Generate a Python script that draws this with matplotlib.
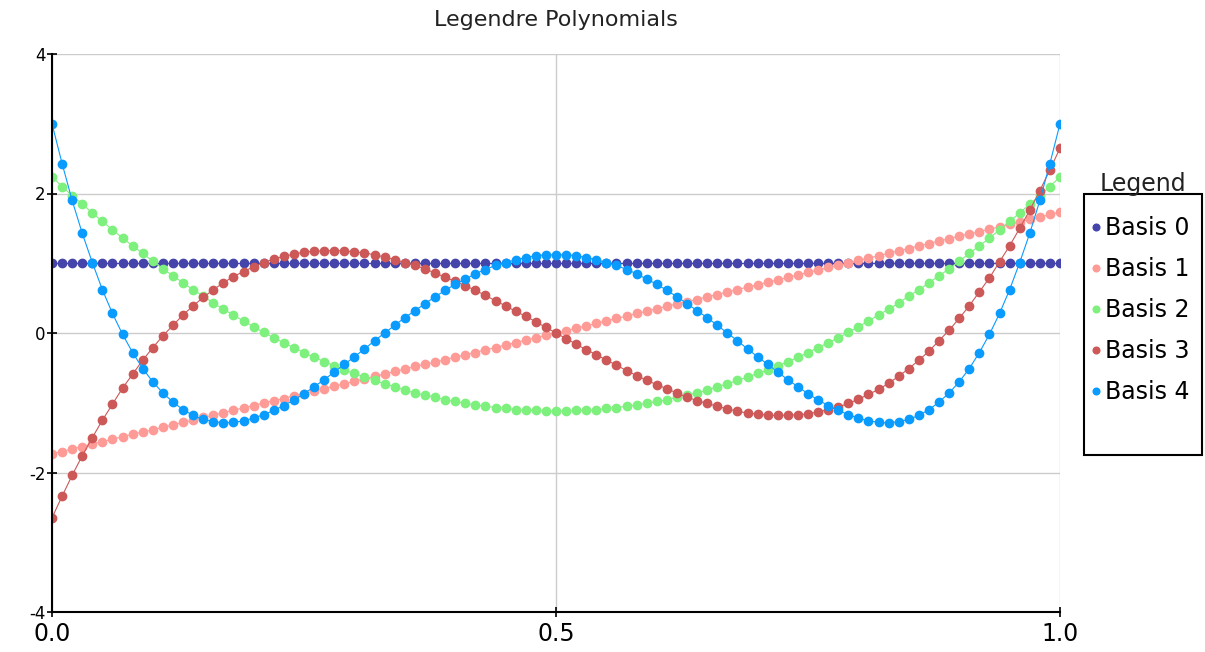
import numpy as np
import matplotlib
matplotlib.use('Agg')
from matplotlib import pyplot as plt
from matplotlib.patches import Rectangle

# 101 sample points on [0, 1]
x = np.arange(101) / 100.0

b0 = [1.0] * 101
b1 = [-1.73, -1.70, -1.66, -1.63, -1.59, -1.56, -1.52, -1.49, -1.45, -1.42,
      -1.39, -1.35, -1.32, -1.28, -1.25, -1.21, -1.18, -1.14, -1.11, -1.07,
      -1.04, -1.00, -0.97, -0.94, -0.90, -0.87, -0.83, -0.80, -0.76, -0.73,
      -0.69, -0.66, -0.62, -0.59, -0.55, -0.52, -0.48, -0.45, -0.42, -0.38,
      -0.35, -0.31, -0.28, -0.24, -0.21, -0.17, -0.14, -0.10, -0.07, -0.03,
      0.00,
      0.03, 0.07, 0.10, 0.14, 0.17, 0.21, 0.24, 0.28, 0.31, 0.35,
      0.38, 0.42, 0.45, 0.48, 0.52, 0.55, 0.59, 0.62, 0.66, 0.69,
      0.73, 0.76, 0.80, 0.83, 0.87, 0.90, 0.94, 0.97, 1.00, 1.04,
      1.07, 1.11, 1.14, 1.18, 1.21, 1.25, 1.28, 1.32, 1.35, 1.39,
      1.42, 1.45, 1.49, 1.52, 1.56, 1.59, 1.63, 1.66, 1.70, 1.73]
b2 = [2.24, 2.10, 1.97, 1.85, 1.72, 1.60, 1.48, 1.36, 1.25, 1.14,
      1.03, 0.92, 0.82, 0.72, 0.62, 0.53, 0.43, 0.34, 0.26, 0.17,
      0.09, 0.01, -0.07, -0.14, -0.21, -0.28, -0.35, -0.41, -0.47, -0.53,
      -0.58, -0.63, -0.68, -0.73, -0.77, -0.82, -0.86, -0.89, -0.92, -0.96,
      -0.98, -1.01, -1.03, -1.05, -1.07, -1.08, -1.10, -1.11, -1.11, -1.12,
      -1.12,
      -1.12, -1.11, -1.11, -1.10, -1.08, -1.07, -1.05, -1.03, -1.01, -0.98,
      -0.96, -0.92, -0.89, -0.86, -0.82, -0.77, -0.73, -0.68, -0.63, -0.58,
      -0.53, -0.47, -0.41, -0.35, -0.28, -0.21, -0.14, -0.07, 0.01, 0.09,
      0.17, 0.26, 0.34, 0.43, 0.53, 0.62, 0.72, 0.82, 0.92, 1.03,
      1.14, 1.25, 1.36, 1.48, 1.60, 1.72, 1.85, 1.97, 2.10, 2.24]
b3 = [-2.65, -2.34, -2.04, -1.76, -1.50, -1.25, -1.02, -0.79, -0.59, -0.39,
      -0.21, -0.04, 0.11, 0.26, 0.39, 0.51, 0.62, 0.72, 0.81, 0.88,
      0.95, 1.01, 1.06, 1.10, 1.13, 1.16, 1.17, 1.18, 1.18, 1.18,
      1.16, 1.15, 1.12, 1.09, 1.05, 1.01, 0.97, 0.92, 0.86, 0.80,
      0.74, 0.68, 0.61, 0.54, 0.46, 0.39, 0.31, 0.24, 0.16, 0.08,
      0.00,
      -0.08, -0.16, -0.24, -0.31, -0.39, -0.46, -0.54, -0.61, -0.68, -0.74,
      -0.80, -0.86, -0.92, -0.97, -1.01, -1.05, -1.09, -1.12, -1.15, -1.16,
      -1.18, -1.18, -1.18, -1.17, -1.16, -1.13, -1.10, -1.06, -1.01, -0.95,
      -0.88, -0.81, -0.72, -0.62, -0.51, -0.39, -0.26, -0.11, 0.04, 0.21,
      0.39, 0.59, 0.79, 1.02, 1.25, 1.50, 1.76, 2.04, 2.34, 2.65]
b4 = [3.00, 2.43, 1.90, 1.43, 1.01, 0.62, 0.28, -0.02, -0.28, -0.51,
      -0.70, -0.86, -0.99, -1.10, -1.18, -1.24, -1.27, -1.29, -1.28, -1.26,
      -1.22, -1.17, -1.11, -1.04, -0.96, -0.87, -0.77, -0.67, -0.56, -0.45,
      -0.34, -0.23, -0.11, 0.00, 0.11, 0.22, 0.32, 0.42, 0.52, 0.61,
      0.70, 0.77, 0.85, 0.91, 0.97, 1.01, 1.05, 1.08, 1.11, 1.12,
      1.12,
      1.12, 1.11, 1.08, 1.05, 1.01, 0.97, 0.91, 0.85, 0.77, 0.70,
      0.61, 0.52, 0.42, 0.32, 0.22, 0.11, 0.00, -0.11, -0.23, -0.34,
      -0.45, -0.56, -0.67, -0.77, -0.87, -0.96, -1.04, -1.11, -1.17, -1.22,
      -1.26, -1.28, -1.29, -1.27, -1.24, -1.18, -1.10, -0.99, -0.86, -0.70,
      -0.51, -0.28, -0.02, 0.28, 0.62, 1.01, 1.43, 1.90, 2.43, 3.00]

names = ['Basis 0', 'Basis 1', 'Basis 2', 'Basis 3', 'Basis 4']
colors = ['#4444aa', '#ff9b96', '#7ef07e', '#cc5858', '#0a9bff']
xticks = [0.0, 0.5, 1.0]
xticklabels = ['0.0', '0.5', '1.0']
yticks = [-4, -2, 0, 2, 4]

plt.rcParams['axes.unicode_minus'] = False

W, H = 1205, 652
fig = plt.figure(figsize=(W / 100, H / 100), dpi=100)
ax = fig.add_axes([52 / W, 1 - 612 / H, 1008 / W, 558 / H])

for y, c, n in zip([b0, b1, b2, b3, b4], colors, names):
    ax.plot(x, y, color=c, lw=0.8, marker='o', ms=6, mec=c, label=n)

ax.set_xlim(0, 1)
ax.set_ylim(-4, 4)
ax.set_xticks(xticks)
ax.set_xticklabels(xticklabels)
ax.set_yticks(yticks)
ax.grid(True, color='#cccccc', lw=1)
ax.set_axisbelow(True)
for s in ['top', 'right']:
    ax.spines[s].set_visible(False)
for s in ['left', 'bottom']:
    ax.spines[s].set_linewidth(1.5)
ax.tick_params(axis='both', direction='inout', length=7, width=1.2, color='black')
ax.tick_params(axis='y', labelsize=12, pad=1)
ax.tick_params(axis='x', labelsize=17, pad=4)
ax.set_title('Legendre Polynomials', fontsize=16, pad=20, color='#222222')

# legend box, with its title sitting above it
fig.patches.append(Rectangle((1084 / W, 1 - 455 / H), 118 / W, 261 / H,
                             transform=fig.transFigure, fill=False,
                             ec='black', lw=1.5))
fig.text(1143 / W, 1 - 184 / H, 'Legend', fontsize=17, ha='center', va='center',
         color='#222222')
leg = fig.legend(loc='upper left', bbox_to_anchor=(1091 / W, 1 - 216 / H),
                 frameon=False, fontsize=17, handlelength=0.4,
                 handletextpad=0.2, labelspacing=0.72, borderpad=0,
                 borderaxespad=0, markerscale=0.8)
for h in leg.legend_handles:
    h.set_linestyle('none')

fig.savefig('out.png', dpi=100)
